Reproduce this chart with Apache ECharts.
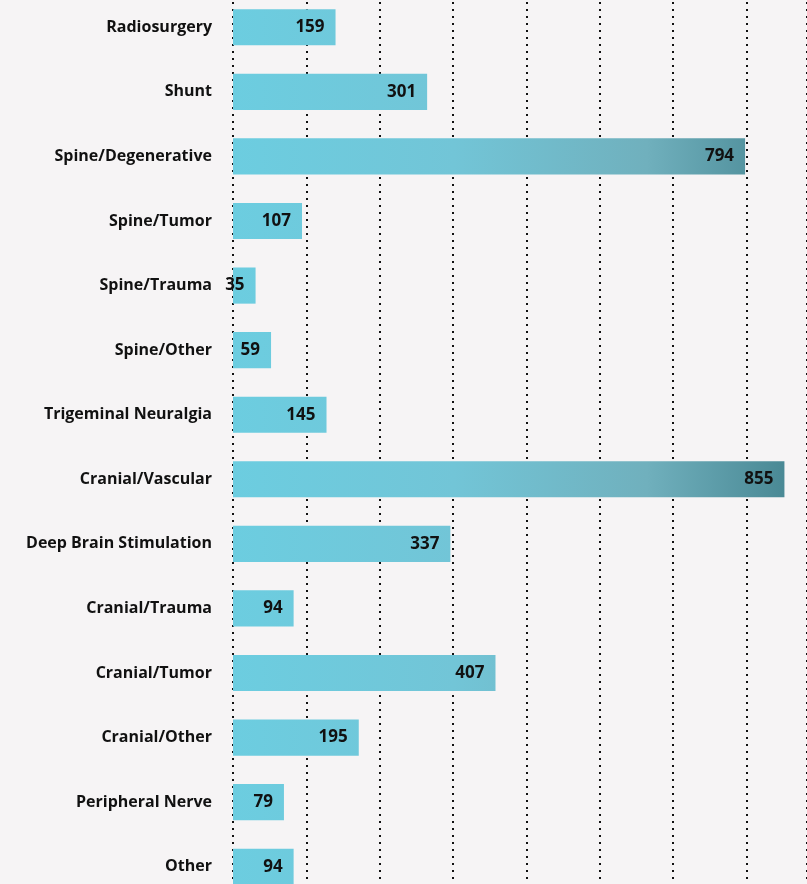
<!DOCTYPE html>
<html>
<head>
<meta charset="utf-8">
<script src="https://cdn.jsdelivr.net/npm/echarts@6/dist/echarts.min.js"></script>
<style>
html,body{margin:0;padding:0;background:#f6f4f5;}
#chart{width:807px;height:884px;}
</style>
</head>
<body>
<div id="chart"></div>
<script>
const categories = ["Radiosurgery","Shunt","Spine/Degenerative","Spine/Tumor","Spine/Trauma","Spine/Other","Trigeminal Neuralgia","Cranial/Vascular","Deep Brain Stimulation","Cranial/Trauma","Cranial/Tumor","Cranial/Other","Peripheral Nerve","Other"];
const caseCounts = [159,301,794,107,35,59,145,855,337,94,407,195,79,94];

const chart = echarts.init(document.getElementById('chart'));
const gridLeft = 233;
const axisMax = 890;
const option = {
  backgroundColor: '#f6f4f5',
  animation: false,
  grid: { left: gridLeft, width: 574, top: -5, height: 904, containLabel: false, outerBoundsMode: 'none' },
  xAxis: {
    type: 'value', min: 0, max: axisMax, interval: 113.75,
    axisLabel: { show: false }, axisTick: { show: false }, axisLine: { show: false },
    splitLine: { show: true, lineStyle: { color: '#111', type: [2, 5], width: 2 } }
  },
  yAxis: {
    type: 'category', inverse: true, data: categories,
    axisLine: { show: false }, axisTick: { show: false },
    axisLabel: { color: '#111', fontFamily: 'Open Sans', fontWeight: 700, fontSize: 16, margin: 21, letterSpacing: -0.5 }
  },
  series: [{
    type: 'bar', data: caseCounts, barWidth: '56%',
    itemStyle: {
      color: new echarts.graphic.LinearGradient(gridLeft, 0, gridLeft + 855 * (574 / axisMax), 0, [
        { offset: 0, color: '#6ccde0' },
        { offset: 0.4, color: '#72c5d7' },
        { offset: 0.75, color: '#70b0bd' },
        { offset: 1, color: '#4a8995' }
      ], true)
    },
    label: { show: true, position: 'insideRight', distance: 11, color: '#111', fontFamily: 'Open Sans', fontWeight: 700, fontSize: 17 }
  }]
};
chart.setOption(option);
</script>
</body>
</html>
